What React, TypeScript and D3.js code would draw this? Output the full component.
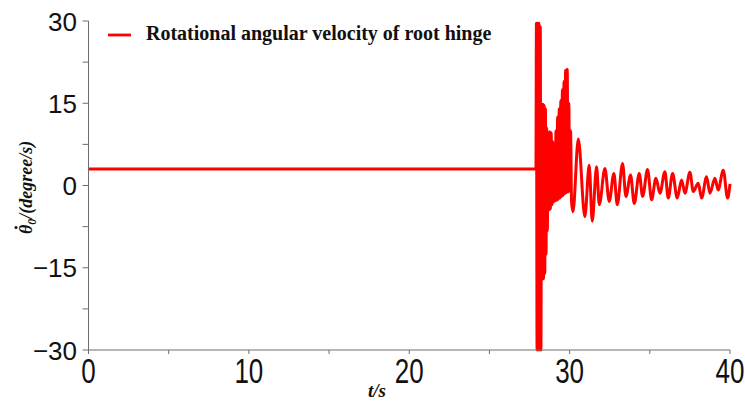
import React from "react";
import * as d3 from "d3";

// ---- data ----
const timeS: number[] = [
  0, 27.9, 27.93, 27.97, 28.01, 28.05, 28.09, 28.13, 28.17, 28.21,
  28.25, 28.29, 28.33, 28.37, 28.41, 28.45, 28.49, 28.53, 28.57, 28.61,
  28.65, 28.7, 28.75, 28.8, 28.85, 28.9, 28.95, 29.0, 29.05, 29.1,
  29.15, 29.2, 29.25, 29.3, 29.35, 29.4, 29.45, 29.5, 29.55, 29.6,
  29.65, 29.7, 29.75, 29.8, 29.85, 29.9, 29.95, 30.0, 30.06, 30.12,
  30.21, 30.54, 30.95, 31.22, 31.41, 31.68, 31.85, 32.2, 32.47, 32.76,
  32.97, 33.3, 33.51, 33.8, 34.03, 34.34, 34.55, 34.86, 35.11, 35.38,
  35.63, 35.94, 36.15, 36.42, 36.71, 36.98, 37.19, 37.5, 37.71, 38.02,
  38.23, 38.54, 38.75, 39.06, 39.26, 39.58, 39.85, 40.0,
];
const angVel: number[] = [
  3, 3, 29.6, -30, 29.6, -30, 29.6, -30, 29.0, -30,
  14.8, -17, 14.8, -17, 14.6, -16, 14.0, -12.5, 10.5, -8.3,
  9.6, -4.5, 9.8, -4.3, 9.6, -3.5, 8.0, -3.0, 5.5, -2.8,
  10.0, -2.7, 12.5, -2.5, 14.0, -2.3, 15.5, -2.0, 17.5, -1.8,
  19.0, -1.5, 21.0, -1.3, 21.2, -1.2, 15.0, -1.0, 10.0, -3.0,
  -4.8, 8.5, -5.7, 3.7, -6.5, 3.4, -3.5, 3.1, -2.9, 2.2,
  -3.5, 4.0, -2.0, 1.9, -3.3, 2.2, -2.0, 2.9, -2.6, 1.3,
  -1.4, 2.5, -2.3, 2.2, -2.3, 1.0, -1.4, 2.4, -1.1, 0.4,
  -2.3, 1.6, -1.4, 1.3, -0.8, 2.8, -2.3, 0.3,
];
const xMajorTicks = [0, 10, 20, 30, 40];
const xMinorTicks = [5, 15, 25, 35];
const yMajorTicks = [30, 15, 0, -15, -30];
const yMinorTicks = [22.5, 7.5, -7.5, -22.5];
const legendLabel = "Rotational angular velocity of root hinge";
const xTitle = "t/s";

const W = 745;
const H = 403;
const axisColor = "#6e6e6e";
const red = "#ff0000";

export default function App() {
  const x = d3.scaleLinear().domain([0, 40]).range([88.5, 730]);
  const y = d3.scaleLinear().domain([-30, 30]).range([350, 21]);
  const pts = timeS.map((t, i) => [t, angVel[i]] as [number, number]);
  const line = d3
    .line<[number, number]>()
    .x((d) => x(d[0]))
    .y((d) => y(d[1]))
    .curve(d3.curveMonotoneX);
  const fmt = (v: number) => (v < 0 ? "\u2212" + Math.abs(v) : String(v));
  const x0 = x(0);
  const yB = y(-30);
  const serif = "'Liberation Serif', 'Times New Roman', serif";
  const sans = "'Liberation Sans', Arial, sans-serif";

  return (
    <svg
      width={W}
      height={H}
      style={{ position: "absolute", left: 0, top: 0, background: "#fff" }}
    >
      <rect x={0} y={0} width={W} height={H} fill="#fff" />
      {/* data line */}
      <path
        d={line(pts) || ""}
        fill="none"
        stroke={red}
        strokeWidth={3}
        strokeLinejoin="round"
      />
      {/* axes */}
      <line x1={x0} x2={x0} y1={y(30)} y2={yB} stroke={axisColor} strokeWidth={1} />
      <line x1={x0} x2={x(40)} y1={yB} y2={yB} stroke={axisColor} strokeWidth={1} />
      {yMajorTicks.concat(yMinorTicks).map((v) => (
        <line key={"yt" + v} x1={x0 - 6} x2={x0} y1={y(v)} y2={y(v)} stroke={axisColor} strokeWidth={1} />
      ))}
      {xMajorTicks.concat(xMinorTicks).map((v) => (
        <line key={"xt" + v} x1={x(v)} x2={x(v)} y1={yB} y2={yB + 4} stroke={axisColor} strokeWidth={1} />
      ))}
      {yMajorTicks.map((v) => (
        <text
          key={"yl" + v}
          x={77}
          y={y(v) + 9.5}
          textAnchor="end"
          fontFamily={sans}
          fontSize={26}
          fill="#111"
        >
          {fmt(v)}
        </text>
      ))}
      {xMajorTicks.map((v) => (
        <text
          key={"xl" + v}
          transform={`translate(${x(v)},383) scale(1,1.35)`}
          textAnchor="middle"
          fontFamily={sans}
          fontSize={26}
          fill="#111"
        >
          {fmt(v)}
        </text>
      ))}
      {/* axis titles */}
      <text
        x={377}
        y={397}
        textAnchor="middle"
        fontFamily={serif}
        fontStyle="italic"
        fontWeight="bold"
        fontSize={19}
        fill="#111"
      >
        {xTitle}
      </text>
      <g transform="translate(32,234) rotate(-90)">
        <text
          x={0}
          y={0}
          fontFamily={serif}
          fontStyle="italic"
          fontWeight="bold"
          fontSize={18}
          fill="#111"
        >
          <tspan>{"\u03B8"}</tspan>
          <tspan fontSize={12} dy={4}>0</tspan>
          <tspan dy={-4}>{"/(degree/s)"}</tspan>
        </text>
        <circle cx={6.5} cy={-16} r={1.5} fill="#111" />
      </g>
      {/* legend */}
      <line x1={108} x2={131} y1={35} y2={35} stroke={red} strokeWidth={2.8} />
      <text
        x={146}
        y={40}
        fontFamily={serif}
        fontWeight="bold"
        fontSize={20}
        fill="#111"
      >
        {legendLabel}
      </text>
    </svg>
  );
}
